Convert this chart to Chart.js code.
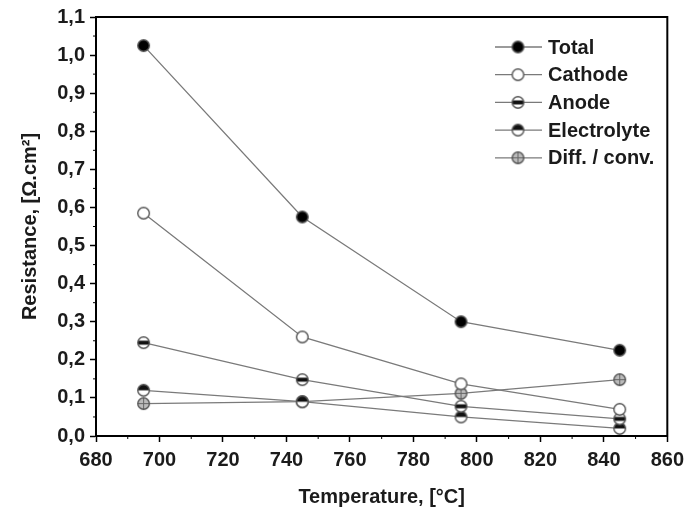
<!DOCTYPE html>
<html>
<head>
<meta charset="utf-8">
<script src="https://cdn.jsdelivr.net/npm/chart.js@4.4.1/dist/chart.umd.min.js"></script>
<style>
  body { margin: 0; background: #fff; }
  #wrap { width: 690px; height: 515px; }
</style>
</head>
<body>
<div id="wrap"><canvas id="chart" width="690" height="515"></canvas></div>
<script>
// temperatures in °C
const temps = [695, 745, 795, 845];

// resistance values, ohm.cm2
const total = [1.025, 0.575, 0.30, 0.225];
const cathode = [0.585, 0.26, 0.137, 0.07];
const anode = [0.245, 0.148, 0.078, 0.045];
const electrolyte = [0.12, 0.09, 0.05, 0.02];
const diffConv = [0.085, 0.09, 0.112, 0.148];

const seriesLabels = ['Total', 'Cathode', 'Anode', 'Electrolyte', 'Diff. / conv.'];

const FONT = 'Liberation Sans, Arial, sans-serif';
const INK = '#1b1b1b';
const LINE = '#7a7a7a';

// small canvases used as point markers
function makeMarker(kind) {
    const c = document.createElement('canvas');
    c.width = 15; c.height = 15;
    const g = c.getContext('2d');
    const r = 5.8, cx = 7.5, cy = 7.5;
    g.save();
    g.beginPath();
    g.arc(cx, cy, r, 0, Math.PI * 2);
    g.fillStyle = '#fff';
    g.fill();
    g.clip();
    if (kind === 'total') {
        g.fillStyle = '#000';
        g.fillRect(0, 0, 15, 15);
    } else if (kind === 'anode') {
        g.fillStyle = '#111';
        g.fillRect(0, cy - 2, 15, 4);
    } else if (kind === 'electrolyte') {
        g.fillStyle = '#111';
        g.fillRect(0, 0, 15, cy);
    } else if (kind === 'diff') {
        g.fillStyle = '#bbb';
        g.fillRect(0, 0, 15, 15);
        g.strokeStyle = '#666';
        g.lineWidth = 1;
        g.beginPath();
        g.moveTo(cx, 0); g.lineTo(cx, 15);
        g.moveTo(0, cy); g.lineTo(15, cy);
        g.stroke();
    }
    g.restore();
    g.beginPath();
    g.arc(cx, cy, r, 0, Math.PI * 2);
    g.strokeStyle = '#555';
    g.lineWidth = 1.4;
    g.stroke();
    return c;
}

const markers = ['total', 'cathode', 'anode', 'electrolyte', 'diff'].map(makeMarker);
const allSeries = [total, cathode, anode, electrolyte, diffConv];

const datasets = allSeries.map((vals, i) => ({
    label: seriesLabels[i],
    data: temps.map((t, k) => ({ x: t, y: vals[k] })),
    borderColor: LINE,
    borderWidth: 1.3,
    pointStyle: markers[i],
    pointRadius: 6,
    fill: false,
    tension: 0
}));

// frame, minor ticks and the legend
const decorPlugin = {
    id: 'decor',
    afterDraw(chart) {
        const ctx = chart.ctx;
        const a = chart.chartArea;
        const xs = chart.scales.x, ys = chart.scales.y;
        ctx.save();
        ctx.strokeStyle = '#000';
        ctx.lineWidth = 2;
        ctx.strokeRect(a.left, a.top, a.right - a.left, a.bottom - a.top);

        // minor ticks
        ctx.lineWidth = 1;
        ctx.beginPath();
        for (let t = 690; t < 860; t += 20) {
            const px = xs.getPixelForValue(t);
            ctx.moveTo(px, a.bottom);
            ctx.lineTo(px, a.bottom + 3);
        }
        for (let v = 0.05; v < 1.1; v += 0.1) {
            const py = ys.getPixelForValue(v);
            ctx.moveTo(a.left, py);
            ctx.lineTo(a.left - 3, py);
        }
        ctx.stroke();

        // legend
        const lx = 495, top = 47, step = 27.7;
        ctx.font = 'bold 20px ' + FONT;
        ctx.textBaseline = 'middle';
        ctx.fillStyle = INK;
        chart.data.datasets.forEach((ds, i) => {
            const y = top + i * step;
            ctx.strokeStyle = LINE;
            ctx.lineWidth = 1.3;
            ctx.beginPath();
            ctx.moveTo(lx, y);
            ctx.lineTo(lx + 47, y);
            ctx.stroke();
            ctx.drawImage(ds.pointStyle, lx + 23 - 7.5, y - 7.5);
            ctx.fillText(ds.label, lx + 53, y + 1);
        });
        ctx.restore();
    }
};

new Chart(document.getElementById('chart'), {
    type: 'line',
    data: { datasets: datasets },
    options: {
        responsive: false,
        animation: false,
        layout: { padding: { top: 17, right: 19, left: 0, bottom: 0 } },
        plugins: { legend: { display: false }, tooltip: { enabled: false } },
        scales: {
            x: {
                type: 'linear',
                min: 680,
                max: 860,
                afterFit: s => { s.height = 79; },
                border: { color: '#000', width: 2 },
                grid: { drawOnChartArea: false, tickLength: 6, tickColor: '#000', tickWidth: 1.5 },
                ticks: { stepSize: 20, color: INK, padding: 6, font: { family: FONT, size: 20, weight: 'bold' } },
                title: {
                    display: true,
                    text: 'Temperature, [°C]',
                    color: INK,
                    font: { family: FONT, size: 20, weight: 'bold' },
                    padding: { top: 0, bottom: 6 }
                }
            },
            y: {
                min: 0,
                max: 1.1,
                afterFit: s => { s.width = 96; },
                border: { color: '#000', width: 2 },
                grid: { drawOnChartArea: false, tickLength: 6, tickColor: '#000', tickWidth: 1.5 },
                ticks: {
                    stepSize: 0.1,
                    color: INK,
                    padding: 5,
                    font: { family: FONT, size: 20, weight: 'bold' },
                    callback: v => v.toFixed(1).replace('.', ',')
                },
                title: {
                    display: true,
                    text: 'Resistance, [Ω.cm²]',
                    color: INK,
                    font: { family: FONT, size: 20, weight: 'bold' },
                    padding: { top: 18, bottom: 0 }
                }
            }
        }
    },
    plugins: [decorPlugin]
});
</script>
</body>
</html>
